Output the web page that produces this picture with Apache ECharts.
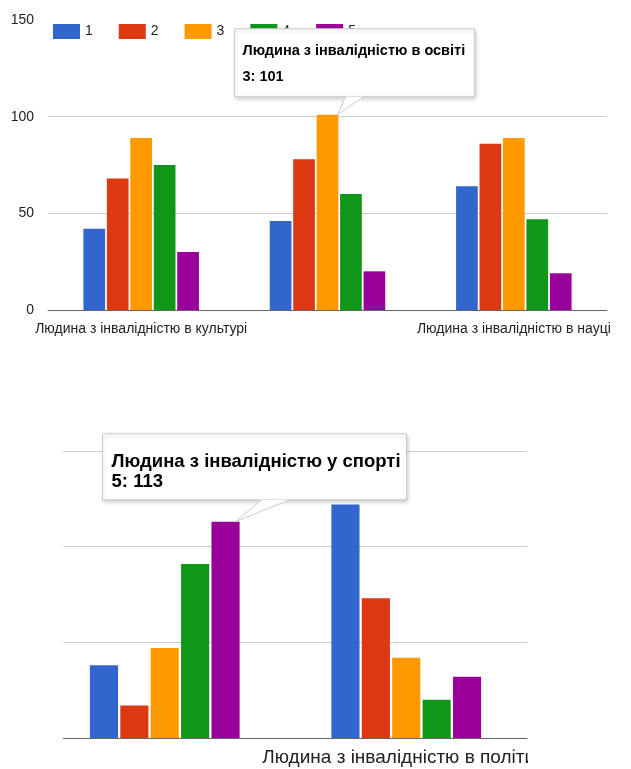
<!DOCTYPE html>
<html>
<head>
<meta charset="utf-8">
<script src="https://cdn.jsdelivr.net/npm/echarts@6/dist/echarts.min.js"></script>
<style>
  html, body { margin: 0; padding: 0; background: #fff; }
  #topChart { position: absolute; left: 0; top: 0; width: 631px; height: 400px; }
  /* the second panel is shown as a cropped window onto a wider chart */
  #bottomCrop { position: absolute; left: 63px; top: 400px; width: 465px; height: 369px; overflow: hidden; }
  #bottomChart { position: absolute; left: -63px; top: 0; width: 631px; height: 369px; }
</style>
</head>
<body>
<div id="topChart"></div>
<div id="bottomCrop"><div id="bottomChart"></div></div>
<script>
// ---- data ----
const seriesNames = ['1', '2', '3', '4', '5'];
const seriesColors = ['#3366cc', '#dc3912', '#ff9900', '#109618', '#990099'];

const topCategories = [
  'Людина з інвалідністю в культурі',
  'Людина з інвалідністю в освіті',
  'Людина з інвалідністю в науці'
];
// one array per series, values per category
const topS1 = [42, 46, 64];
const topS2 = [68, 78, 86];
const topS3 = [89, 101, 89];
const topS4 = [75, 60, 47];
const topS5 = [30, 20, 19];

const bottomCategories = [
  'Людина з інвалідністю у спорті',
  'Людина з інвалідністю в політиці'
];
const bottomS1 = [38, 122];
const bottomS2 = [17, 73];
const bottomS3 = [47, 42];
const bottomS4 = [91, 20];
const bottomS5 = [113, 32];

const yMin = 0, yMax = 150, yStep = 50;

const topSeriesData = [topS1, topS2, topS3, topS4, topS5];
const bottomSeriesData = [bottomS1, bottomS2, bottomS3, bottomS4, bottomS5];

const FONT = 'Arial, "Liberation Sans", sans-serif';

function barSeries(dataSets) {
  return dataSets.map((d, i) => ({
    name: seriesNames[i],
    type: 'bar',
    data: d,
    itemStyle: { color: seriesColors[i] },
    barGap: '8%',
    barCategoryGap: '38%'
  }));
}

// tooltip-like callout anchored on a bar top
function callout(chart, seriesIndex, dataIndex, title, valueText, opt) {
  const layout = chart.getModel().getSeriesByIndex(seriesIndex).getData().getItemLayout(dataIndex);
  const ax = layout.x + layout.width / 2;
  const ay = Math.min(layout.y, layout.y + layout.height);
  const bx = ax + opt.dx, by = ay + opt.dy;
  const bottom = by + opt.h;
  const tip = [ax + opt.tipDx, ay];
  const b1 = [ax + opt.base1, bottom];
  const b2 = [ax + opt.base2, bottom];
  return [
    {
      type: 'rect', z: 100,
      shape: { x: bx, y: by, width: opt.w, height: opt.h },
      style: { fill: '#fff', stroke: '#cccccc', lineWidth: 1,
               shadowBlur: 4, shadowOffsetX: 1, shadowOffsetY: 2, shadowColor: 'rgba(0,0,0,0.18)' }
    },
    {
      type: 'polygon', z: 101,
      shape: { points: [b1, tip, b2] },
      style: { fill: '#fff' }
    },
    {
      type: 'polyline', z: 102,
      shape: { points: [b1, tip, b2] },
      style: { stroke: '#cccccc', lineWidth: 1, fill: null }
    },
    {
      type: 'text', z: 103,
      style: { x: bx + opt.padX, y: by + opt.line1, text: title, fill: '#000',
               font: 'bold ' + opt.fs + 'px ' + FONT, textVerticalAlign: 'middle' }
    },
    {
      type: 'text', z: 103,
      style: { x: bx + opt.padX, y: by + opt.line2, text: valueText, fill: '#000',
               font: 'bold ' + opt.fs + 'px ' + FONT, textVerticalAlign: 'middle' }
    }
  ];
}

// ---- upper panel ----
const topChart = echarts.init(document.getElementById('topChart'));
topChart.setOption({
  animation: false,
  textStyle: { fontFamily: FONT },
  legend: {
    data: seriesNames,
    left: 48, top: 19,
    icon: 'rect', itemWidth: 27, itemHeight: 15, itemGap: 26,
    textStyle: { fontSize: 14, color: '#222', fontFamily: FONT }
  },
  grid: { left: 48, right: 24, top: 20, bottom: 90 },
  xAxis: {
    type: 'category', data: topCategories,
    axisTick: { show: false },
    axisLine: { lineStyle: { color: '#666' } },
    axisLabel: { interval: (i) => i !== 1, fontSize: 14, color: '#222', margin: 12, fontFamily: FONT }
  },
  yAxis: {
    type: 'value', min: yMin, max: yMax, interval: yStep,
    axisLabel: { fontSize: 14, color: '#222', margin: 14, fontFamily: FONT },
    splitLine: { lineStyle: { color: ['#cccccc', '#cccccc', '#cccccc', 'rgba(0,0,0,0)'] } }
  },
  series: barSeries(topSeriesData)
});
topChart.setOption({
  graphic: callout(topChart, 2, 1, topCategories[1], seriesNames[2] + ': ' + topS3[1], {
    dx: -93, dy: -86, w: 240, h: 68, tipDx: 10, base1: 18, base2: 36,
    padX: 8, line1: 22, line2: 48, fs: 14.5
  })
});

// ---- lower panel ----
const bottomChart = echarts.init(document.getElementById('bottomChart'));
bottomChart.setOption({
  animation: false,
  textStyle: { fontFamily: FONT },
  grid: { left: 44, right: 104, top: 51, bottom: 31 },
  xAxis: {
    type: 'category', data: bottomCategories,
    axisTick: { show: false },
    axisLine: { lineStyle: { color: '#666' } },
    axisLabel: { interval: (i) => i === 1, fontSize: 19, color: '#222', margin: 10, fontFamily: FONT }
  },
  yAxis: {
    type: 'value', min: yMin, max: yMax, interval: yStep,
    axisLabel: { show: false },
    splitLine: { lineStyle: { color: '#cccccc' } }
  },
  series: barSeries(bottomSeriesData)
});
bottomChart.setOption({
  graphic: callout(bottomChart, 4, 0, bottomCategories[0], seriesNames[4] + ': ' + bottomS5[0], {
    dx: -123, dy: -88, w: 304, h: 66, tipDx: 10, base1: 36, base2: 64,
    padX: 9, line1: 28, line2: 48, fs: 18.5
  })
});
</script>
</body>
</html>
